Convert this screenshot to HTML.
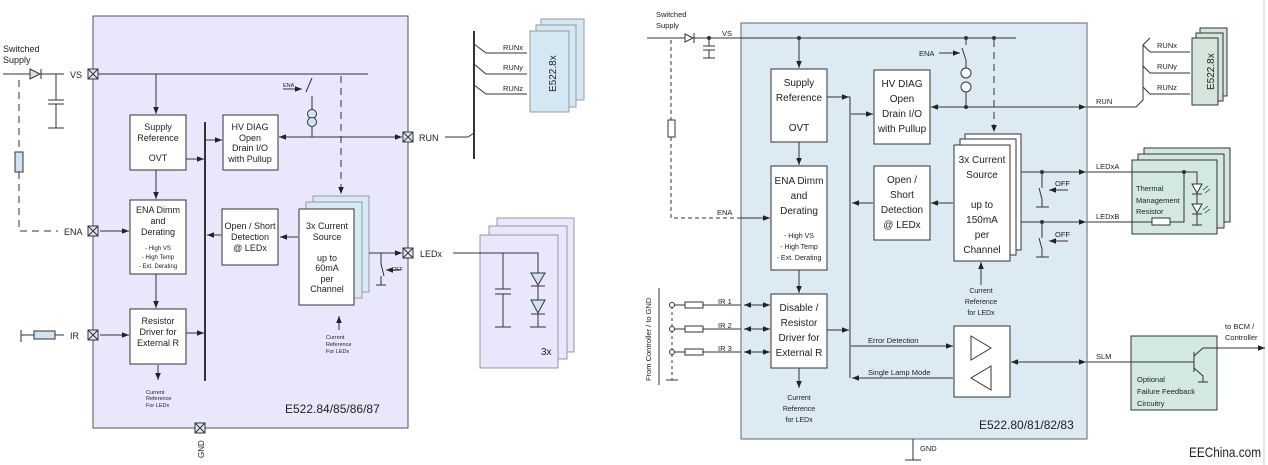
<!DOCTYPE html>
<html><head><meta charset="utf-8"><style>
html,body{margin:0;padding:0;background:#fff}
svg{display:block}
text{font-family:"Liberation Sans",sans-serif;fill:#222}
</style></head><body>
<svg width="1268" height="465" viewBox="0 0 1268 465" xmlns="http://www.w3.org/2000/svg">
<defs>
<marker id="a" viewBox="0 0 10 10" refX="10" refY="5" markerWidth="7" markerHeight="7" orient="auto-start-reverse"><path d="M0,1 L10,5 L0,9 z" fill="#222"/></marker>
<g id="term"><rect x="-5" y="-5" width="10" height="10" fill="#dfe8f2" stroke="#333" stroke-width="1"/><path d="M-5,-5 L5,5 M5,-5 L-5,5" stroke="#333" stroke-width="1"/></g>
</defs>
<g stroke="#333" fill="none" stroke-width="1">

<!-- ===== LEFT DIAGRAM ===== -->
<rect x="93" y="16" width="315" height="412" fill="#e8e7fb" stroke="#555"/>
<line x1="3" y1="74" x2="64" y2="74"/>
<path d="M30,69 L40,74 L30,79 z" fill="#cfe3f2"/><line x1="41" y1="69" x2="41" y2="79"/>
<line x1="56" y1="74" x2="56" y2="100"/><line x1="48" y1="100" x2="64" y2="100"/><line x1="48" y1="104" x2="64" y2="104"/><line x1="56" y1="104" x2="56" y2="128"/><line x1="48" y1="128" x2="64" y2="128"/>
<path d="M19,80 V152 M19,172 V231 H58" stroke-dasharray="7,5"/>
<rect x="15" y="152" width="8" height="20" fill="#cfe3f2"/>
<line x1="93" y1="74" x2="368" y2="74"/>
<line x1="156" y1="74" x2="156" y2="114" marker-end="url(#a)"/>
<line x1="100" y1="231" x2="129" y2="231" marker-end="url(#a)"/>
<line x1="21" y1="330" x2="21" y2="342"/><line x1="21" y1="335" x2="34" y2="335"/><rect x="34" y="331" width="21" height="8" fill="#cfe3f2"/><line x1="55" y1="335" x2="64" y2="335"/>
<line x1="100" y1="335" x2="129" y2="335" marker-end="url(#a)"/>
<rect x="130" y="115" width="56" height="55" fill="#fff"/>
<rect x="130" y="200" width="56" height="74" fill="#fff"/>
<rect x="130" y="309" width="56" height="55" fill="#fff"/>
<line x1="156" y1="170" x2="156" y2="199" marker-end="url(#a)"/>
<line x1="156" y1="274" x2="156" y2="308" marker-end="url(#a)"/>
<line x1="158" y1="365" x2="158" y2="380" marker-end="url(#a)"/>
<line x1="205" y1="122" x2="205" y2="381" stroke-width="2"/>
<line x1="186" y1="159" x2="204" y2="159" marker-end="url(#a)"/>
<line x1="186" y1="333" x2="204" y2="333" marker-end="url(#a)"/>
<line x1="206" y1="140" x2="222" y2="140" marker-end="url(#a)"/>
<line x1="221" y1="235" x2="207" y2="235" marker-end="url(#a)"/>
<rect x="223" y="115" width="55" height="55" fill="#fff"/>
<rect x="222" y="209" width="56" height="56" fill="#fff"/>
<rect x="313" y="196" width="56" height="96" fill="#d6e9f5" stroke="#999"/>
<rect x="306" y="202" width="56" height="96" fill="#d6e9f5" stroke="#999"/>
<rect x="299" y="209" width="55" height="96" fill="#fff"/>
<line x1="298" y1="237" x2="280" y2="237" marker-end="url(#a)"/>
<line x1="279" y1="137" x2="402" y2="137" marker-start="url(#a)" marker-end="url(#a)"/>
<line x1="312" y1="137" x2="312" y2="127"/>
<circle cx="312" cy="114" r="4.5" fill="#cfe3f2"/><circle cx="312" cy="122" r="4.5" fill="#cfe3f2"/>
<line x1="312" y1="110" x2="312" y2="96"/><line x1="306" y1="92" x2="312" y2="78"/>
<line x1="283" y1="89" x2="302" y2="89" marker-end="url(#a)"/>
<line x1="341" y1="76" x2="341" y2="194" stroke-dasharray="7,5" marker-end="url(#a)"/>
<line x1="369" y1="253" x2="402" y2="253" marker-end="url(#a)"/>
<line x1="381" y1="253" x2="381" y2="264"/><line x1="381" y1="264" x2="384" y2="276"/><line x1="376" y1="285" x2="386" y2="285"/><line x1="381" y1="285" x2="381" y2="276"/>
<line x1="400" y1="270" x2="386" y2="270" marker-end="url(#a)"/>
<line x1="339" y1="330" x2="339" y2="316" marker-end="url(#a)"/>
<use href="#term" x="93" y="74"/><use href="#term" x="93" y="231"/><use href="#term" x="93" y="335"/>
<use href="#term" x="408" y="137"/><use href="#term" x="408" y="253"/><use href="#term" x="200" y="428"/>

<!-- middle -->
<line x1="445" y1="137" x2="468" y2="137"/><line x1="468" y1="137" x2="474" y2="133"/>
<line x1="474" y1="31" x2="474" y2="159" stroke-width="2"/>
<path d="M474,44 L486,53 H527 M474,64 L486,74 H527 M474,85 L486,94 H527"/>
<rect x="541" y="19" width="43" height="81" fill="#d4e8f4" stroke="#999"/>
<rect x="536" y="25" width="40" height="82" fill="#d4e8f4" stroke="#999"/>
<rect x="530" y="31" width="39" height="81" fill="#d4e8f4" stroke="#999"/>
<rect x="497" y="218" width="77" height="134" fill="#e8e7fb" stroke="#999"/>
<rect x="489" y="226" width="78" height="133" fill="#e8e7fb" stroke="#999"/>
<rect x="480" y="235" width="78" height="133" fill="#e8e7fb" stroke="#999"/>
<path d="M453,253 H538 V273 M503,253 V289 M495,289 H511 M495,294 H511 M503,294 V327 M495,327 H511"/>
<path d="M531,273 L545,273 L538,285 z" fill="#cfe3f2"/><line x1="531" y1="286" x2="545" y2="286"/>
<line x1="538" y1="286" x2="538" y2="300"/>
<path d="M531,300 L545,300 L538,313 z" fill="#cfe3f2"/><line x1="531" y1="314" x2="545" y2="314"/>
<line x1="538" y1="314" x2="538" y2="327"/><line x1="530" y1="327" x2="546" y2="327"/>

<!-- ===== RIGHT DIAGRAM ===== -->
<rect x="741" y="23" width="346" height="416" fill="#dceaf3" stroke="#666"/>
<line x1="1264" y1="0" x2="1264" y2="465" stroke="#ccc"/>
<line x1="647" y1="38" x2="1016" y2="38"/>
<path d="M685,34 L693,38 L685,42 z" fill="#fff"/><line x1="694" y1="33" x2="694" y2="43"/>
<path d="M709,38 V46 M703,46 H715 M703,50 H715 M709,50 V58 M703,58 H715"/>
<path d="M671,40 V120 M671,137 V218 H768" stroke-dasharray="4,3"/>
<rect x="668" y="120" width="7" height="17" fill="#fff"/>
<line x1="741" y1="218" x2="770" y2="218" marker-end="url(#a)"/>
<rect x="771" y="69" width="56" height="73" fill="#fff"/>
<rect x="771" y="166" width="56" height="104" fill="#fff"/>
<rect x="771" y="294" width="56" height="74" fill="#fff"/>
<line x1="799" y1="38" x2="799" y2="68" marker-end="url(#a)"/>
<line x1="799" y1="142" x2="799" y2="165" marker-end="url(#a)"/>
<line x1="799" y1="270" x2="799" y2="293" marker-end="url(#a)"/>
<line x1="799" y1="368" x2="799" y2="388" marker-end="url(#a)"/>
<path d="M827,97 H850 V378"/>
<line x1="836" y1="97" x2="849" y2="97" marker-end="url(#a)"/>
<line x1="827" y1="330" x2="849" y2="330" marker-end="url(#a)"/>
<line x1="851" y1="114" x2="873" y2="114" marker-end="url(#a)"/>
<line x1="873" y1="203" x2="852" y2="203" marker-end="url(#a)"/>
<line x1="953" y1="203" x2="931" y2="203" marker-end="url(#a)"/>
<rect x="874" y="70" width="56" height="74" fill="#fff"/>
<rect x="874" y="166" width="56" height="74" fill="#fff"/>
<rect x="965" y="134" width="56" height="116" fill="#fff"/>
<rect x="960" y="139" width="56" height="116" fill="#fff"/>
<rect x="954" y="145" width="56" height="116" fill="#fff"/>
<line x1="931" y1="107" x2="1086" y2="107" marker-start="url(#a)" marker-end="url(#a)"/>
<path d="M1087,107 H1136 L1143,100 V45 L1150,38"/>
<path d="M1143,45 L1150,52 H1190 M1143,66 L1150,73 H1190 M1143,87 L1150,94 H1190"/>
<rect x="1200" y="28" width="27" height="68" fill="#d4e6dc"/>
<rect x="1196" y="33" width="27" height="68" fill="#d4e6dc"/>
<rect x="1192" y="38" width="26" height="67" fill="#d4e6dc"/>
<line x1="966" y1="38" x2="966" y2="45"/><line x1="962" y1="48" x2="966" y2="60"/><line x1="966" y1="60" x2="966" y2="68"/>
<line x1="939" y1="53" x2="960" y2="53" marker-end="url(#a)"/>
<circle cx="966" cy="73" r="5" fill="#fff"/><circle cx="966" cy="87" r="5" fill="#fff"/>
<line x1="966" y1="92" x2="966" y2="107"/>
<line x1="994" y1="40" x2="994" y2="132" stroke-dasharray="7,5" marker-end="url(#a)"/>
<circle cx="966" cy="107" r="1.5" fill="#333"/><circle cx="799" cy="38" r="1.5" fill="#333"/><circle cx="966" cy="38" r="1.5" fill="#333"/><circle cx="994" cy="38" r="1.5" fill="#333"/><circle cx="709" cy="38" r="1.5" fill="#333"/>
<line x1="1021" y1="172" x2="1086" y2="172" marker-end="url(#a)"/>
<line x1="1021" y1="222" x2="1086" y2="222" marker-end="url(#a)"/>
<path d="M1042,172 V188 M1039,188 L1042,199 M1042,199 V207 M1036,207 H1049"/>
<path d="M1042,222 V238 M1039,238 L1042,249 M1042,249 V257 M1036,257 H1049"/>
<line x1="1068" y1="190" x2="1049" y2="190" marker-end="url(#a)"/>
<line x1="1068" y1="241" x2="1049" y2="241" marker-end="url(#a)"/>
<circle cx="1042" cy="172" r="1.5" fill="#333"/><circle cx="1042" cy="222" r="1.5" fill="#333"/>
<rect x="1144" y="148" width="86" height="74" fill="#d3e8e0"/>
<rect x="1138" y="154" width="86" height="74" fill="#d3e8e0"/>
<rect x="1132" y="160" width="85" height="74" fill="#d3e8e0"/>
<path d="M1087,172 H1197 V184 M1087,222 H1152 M1170,222 H1184 V172"/>
<circle cx="1184" cy="172" r="1.5" fill="#333"/>
<rect x="1152" y="218" width="18" height="7" fill="#fff"/>
<path d="M1197,194 V204 M1197,214 V225 M1192,225 H1202"/>
<path d="M1192,184 H1202 L1197,193 z" fill="#fff"/><line x1="1192" y1="194" x2="1202" y2="194"/>
<path d="M1192,204 H1202 L1197,213 z" fill="#fff"/><line x1="1192" y1="214" x2="1202" y2="214"/>
<path d="M1203,190 L1208,186 M1205,193 L1210,189 M1203,210 L1208,206 M1205,213 L1210,209" stroke-width="0.8"/>
<rect x="954" y="326" width="56" height="71" fill="#fff"/>
<path d="M971,336 L991,348 L971,360 z"/><path d="M991,366 L971,378 L991,390 z"/>
<line x1="851" y1="346" x2="953" y2="346" marker-end="url(#a)"/>
<line x1="953" y1="378" x2="852" y2="378" marker-end="url(#a)"/>
<line x1="1011" y1="362" x2="1086" y2="362" marker-start="url(#a)" marker-end="url(#a)"/>
<line x1="1087" y1="362" x2="1131" y2="362"/>
<rect x="1131" y="336" width="86" height="74" fill="#d3e8e0"/>
<path d="M1131,362 H1194 M1194,352 V372 M1194,356 L1203,348 H1265 M1194,368 L1203,376 V382 M1198,382 H1208"/>
<line x1="1250" y1="348" x2="1265" y2="348" marker-end="url(#a)"/>
<line x1="981" y1="285" x2="981" y2="262" marker-end="url(#a)"/>
<line x1="659" y1="288" x2="659" y2="385"/>
<path d="M672,306 V380" stroke-dasharray="3,3"/>
<line x1="666" y1="380" x2="678" y2="380"/>
<g>
<line x1="675" y1="305" x2="685" y2="305"/><rect x="685" y="302" width="18" height="6" fill="#fff"/><line x1="703" y1="305" x2="741" y2="305"/><circle cx="672" cy="305" r="2.5" fill="#fff"/>
<line x1="675" y1="329" x2="685" y2="329"/><rect x="685" y="326" width="18" height="6" fill="#fff"/><line x1="703" y1="329" x2="741" y2="329"/><circle cx="672" cy="329" r="2.5" fill="#fff"/>
<line x1="675" y1="352" x2="685" y2="352"/><rect x="685" y="349" width="18" height="6" fill="#fff"/><line x1="703" y1="352" x2="741" y2="352"/><circle cx="672" cy="352" r="2.5" fill="#fff"/>
</g>
<line x1="744" y1="305" x2="770" y2="305" marker-start="url(#a)" marker-end="url(#a)"/>
<line x1="744" y1="329" x2="770" y2="329" marker-start="url(#a)" marker-end="url(#a)"/>
<line x1="744" y1="352" x2="770" y2="352" marker-start="url(#a)" marker-end="url(#a)"/>
<path d="M913,439 V460 M905,460 H921"/>
</g>

<!-- ===== TEXT ===== -->
<g font-size="9">
<text x="3" y="52">Switched</text><text x="3" y="63">Supply</text>
<text x="70" y="78">VS</text><text x="64" y="235">ENA</text><text x="70" y="339">IR</text>
<text x="419" y="141">RUN</text><text x="420" y="257">LEDx</text>
<text x="503" y="50" font-size="7.5">RUNx</text><text x="503" y="70" font-size="7.5">RUNy</text><text x="503" y="91" font-size="7.5">RUNz</text>
<text x="541" y="355" font-size="10">3x</text>
</g>
<g font-size="9" text-anchor="middle">
<text x="158" y="130">Supply</text><text x="158" y="141">Reference</text><text x="158" y="161">OVT</text>
<text x="158" y="213">ENA Dimm</text><text x="158" y="224">and</text><text x="158" y="235">Derating</text>
<text x="158" y="324">Resistor</text><text x="158" y="335">Driver for</text><text x="158" y="346">External R</text>
<text x="250" y="130">HV DIAG</text><text x="250" y="141">Open</text><text x="250" y="151">Drain I/O</text><text x="250" y="162">with Pullup</text>
<text x="250" y="229">Open / Short</text><text x="250" y="240">Detection</text><text x="250" y="251">@ LEDx</text>
<text x="327" y="229">3x Current</text><text x="327" y="240">Source</text><text x="327" y="261">up to</text><text x="327" y="271">60mA</text><text x="327" y="282">per</text><text x="327" y="292">Channel</text>
</g>
<g font-size="6" text-anchor="middle">
<text x="158" y="250">- High VS</text><text x="158" y="259">- High Temp</text><text x="158" y="268">- Ext. Derating</text>
</g>
<g font-size="5.5">
<text x="146" y="394">Current</text><text x="146" y="400">Reference</text><text x="146" y="407">For LEDx</text>
<text x="326" y="339">Current</text><text x="326" y="346">Reference</text><text x="326" y="353">For LEDx</text>
<text x="283" y="87">ENA</text><text x="392" y="271">OFF</text>
</g>
<text x="285" y="413" font-size="12">E522.84/85/86/87</text>
<text transform="translate(204,458) rotate(-90)" font-size="8">GND</text>
<text transform="translate(556,92) rotate(-90)" font-size="10">E522.8x</text>

<!-- right text -->
<g font-size="7.5">
<text x="656" y="17">Switched</text><text x="656" y="28">Supply</text>
<text x="722" y="36">VS</text><text x="717" y="215">ENA</text><text x="919" y="56">ENA</text>
<text x="1096" y="104">RUN</text><text x="1157" y="48">RUNx</text><text x="1157" y="69">RUNy</text><text x="1157" y="90">RUNz</text>
<text x="1096" y="169">LEDxA</text><text x="1096" y="219">LEDxB</text>
<text x="1055" y="186">OFF</text><text x="1055" y="237">OFF</text>
<text x="1096" y="359">SLM</text>
<text x="718" y="304">IR 1</text><text x="718" y="328">IR 2</text><text x="718" y="351">IR 3</text>
<text x="868" y="343">Error Detection</text><text x="868" y="375">Single Lamp Mode</text>
<text x="920" y="451">GND</text>
<text x="1225" y="329">to BCM /</text><text x="1225" y="340">Controller</text>
<text x="1136" y="191">Thermal</text><text x="1136" y="203">Management</text><text x="1136" y="214">Resistor</text>
<text x="1137" y="382">Optional</text><text x="1137" y="394">Failure Feedback</text><text x="1137" y="406">Circuitry</text>
</g>
<g font-size="7" text-anchor="middle">
<text x="981" y="293">Current</text><text x="981" y="304">Reference</text><text x="981" y="315">for LEDx</text>
<text x="799" y="400">Current</text><text x="799" y="411">Reference</text><text x="799" y="422">for LEDx</text>
<text x="799" y="238">- High VS</text><text x="799" y="249">- High Temp</text><text x="799" y="260">- Ext. Derating</text>
</g>
<g font-size="10" text-anchor="middle">
<text x="799" y="86">Supply</text><text x="799" y="101">Reference</text><text x="799" y="131">OVT</text>
<text x="799" y="184">ENA Dimm</text><text x="799" y="199">and</text><text x="799" y="214">Derating</text>
<text x="799" y="311">Disable /</text><text x="799" y="326">Resistor</text><text x="799" y="341">Driver for</text><text x="799" y="356">External R</text>
<text x="902" y="87">HV DIAG</text><text x="902" y="102">Open</text><text x="902" y="117">Drain I/O</text><text x="902" y="132">with Pullup</text>
<text x="902" y="183">Open /</text><text x="902" y="198">Short</text><text x="902" y="213">Detection</text><text x="902" y="228">@ LEDx</text>
<text x="982" y="163">3x Current</text><text x="982" y="178">Source</text><text x="982" y="208">up to</text><text x="982" y="223">150mA</text><text x="982" y="238">per</text><text x="982" y="253">Channel</text>
</g>
<text x="979" y="429" font-size="12">E522.80/81/82/83</text>
<text transform="translate(1214,90) rotate(-90)" font-size="10">E522.8x</text>
<text transform="translate(651,381) rotate(-90)" font-size="7.5">From Controller / to GND</text>
<text x="1189" y="457" font-size="14" fill="#000" textLength="72" lengthAdjust="spacingAndGlyphs">EEChina.com</text>
</svg>
</body></html>
